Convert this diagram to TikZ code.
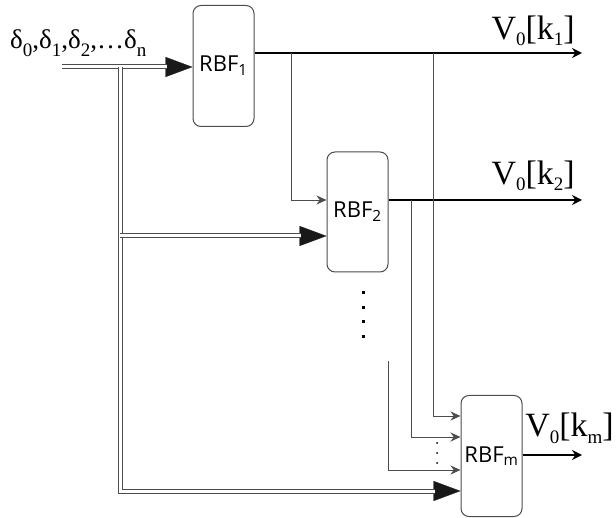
\documentclass[tikz,border=0pt]{standalone}
\usepackage{fontspec}
\setmainfont{Liberation Serif}
\newfontfamily\rbffont{Open Sans}
\usetikzlibrary{arrows.meta,calc}
% lowered subscript for the serif labels
\newcommand\lo[2][7pt]{\raisebox{-#1}{\fontsize{19}{19}\selectfont #2}}

\begin{document}
\begin{tikzpicture}[x=1pt,y=-1pt,>=Stealth,
  blk/.style={draw=black!70,line width=1pt,rounded corners=8pt,minimum width=61pt,minimum height=121pt,inner sep=0pt,font=\rbffont\fontsize{22}{24}\selectfont},
  feed/.style={draw=black!70,line width=0.9pt,-{Stealth[length=10pt,width=9pt]}},
  outp/.style={line width=1.6pt,-{Stealth[length=10pt,width=10pt]}},
  busline/.style={draw=black!70,line width=1pt,double=white,double distance=3pt,shorten >=26pt},
  bustip/.style={draw=black!90,line width=0.3pt,-{Triangle[length=27pt,width=20pt]}},
  vlab/.style={inner sep=0pt,font=\fontsize{34}{36}\selectfont}]
\useasboundingbox (0,0) rectangle (616,518);

\node[blk] (rbf1) at (223.5,66) {RBF\textsubscript{1}};
\node[blk,minimum height=120pt] (rbf2) at (357.5,212) {RBF\textsubscript{2}};
\node[blk] (rbfm) at (491.5,456) {RBF\textsubscript{m}};

% input bus
\coordinate (in) at (62,67);
\coordinate (b0) at (120,67);
\coordinate (b2) at (120,236);
\node[anchor=base west,inner sep=0pt,font=\fontsize{27}{29}\selectfont] (dl) at (10,49) {δ\lo[8pt]{0},δ\lo[8pt]{1},δ\lo[8pt]{2},{\ldots}δ\lo[8pt]{n}};
\draw[bustip] (in) -- (rbf1.west |- in);
\draw[busline] (in) -- (rbf1.west |- in);
\draw[bustip] (b0) |- ([yshift=-35pt]rbfm.west);
\draw[busline] (b0) |- ([yshift=-35pt]rbfm.west);
\draw[bustip] (b2) -- ([yshift=-24pt]rbf2.west);
\draw[busline] (b2) -- ([yshift=-24pt]rbf2.west);

% outputs
\coordinate (o1) at (582,53);
\coordinate (o2) at (582,200);
\coordinate (om) at (582,455);
\draw[outp] (rbf1.east |- o1) -- (o1);
\draw[outp] (rbf2.east |- o2) -- (o2);
\draw[outp] (rbfm.east |- om) -- (om);
\node[vlab,anchor=base east] (v1) at (575,40) {V\lo[6pt]{0}[k\lo[6pt]{1}]};
\node[vlab,anchor=base east] (v2) at (575,185) {V\lo[6pt]{0}[k\lo[6pt]{2}]};
\node[vlab,anchor=base east] (vm) at (614,437) {V\lo[6pt]{0}[k\lo[6pt]{m}]};

% feedback taps
\coordinate (f1) at (291,53);
\coordinate (f2) at (433,53);
\coordinate (f3) at (411,200);
\coordinate (f4) at (388,361);
\draw[feed] (f1) |- ([yshift=12pt]rbf2.west);
\draw[feed] (f2) |- ([yshift=40pt]rbfm.west);
\draw[feed] (f3) |- ([yshift=19pt]rbfm.west);
\draw[feed] (f4) |- ([yshift=-14pt]rbfm.west);

% dots
\foreach \y in {293,308,322,337}
  \fill (361.5,{\y-1.5}) rectangle +(3,3);
\foreach \y in {443,453,463}
  \fill (437,\y) circle (1pt);
\end{tikzpicture}
\end{document}
